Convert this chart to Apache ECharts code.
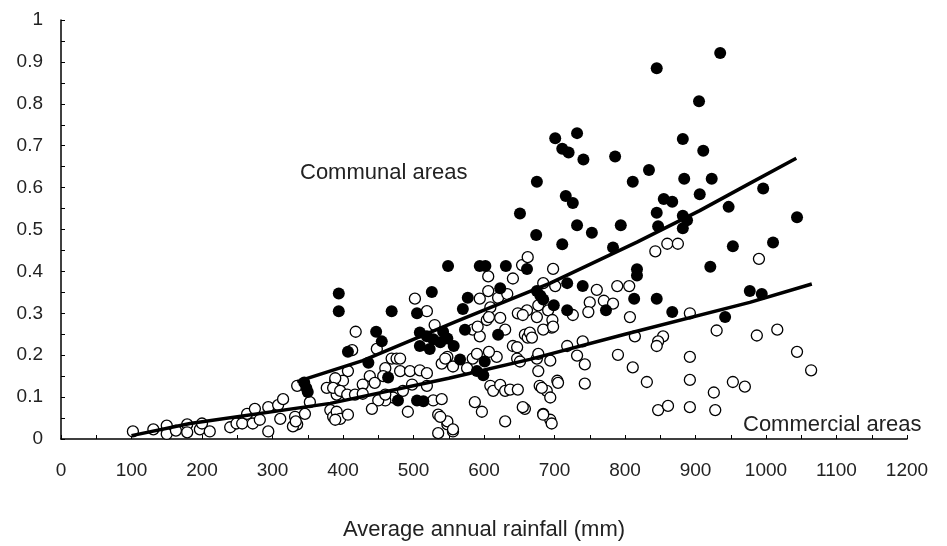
<!DOCTYPE html>
<html>
<head>
<meta charset="utf-8">
<script src="https://cdn.jsdelivr.net/npm/echarts@6/dist/echarts.min.js"></script>
<style>
html,body{margin:0;padding:0;background:#fff;}
#chart{width:947px;height:546px;}
</style>
</head>
<body>
<div id="chart"></div>
<script>
// ---- Data ----
const xTickLabels = ['0','100','200','300','400','500','600','700','800','900','1000','1100','1200'];
const yTickLabels = ['0','0.1','0.2','0.3','0.4','0.5','0.6','0.7','0.8','0.9','1'];

// Communal areas (filled markers): [rainfall mm, value]
const communalPoints = [
  [345,0.135],[350,0.112],[348,0.122],[394,0.347],[394,0.305],[407,0.208],[436,0.182],
  [447,0.256],[455,0.233],[464,0.147],[469,0.305],[478,0.092],[505,0.092],[514,0.090],
  [505,0.300],[526,0.351],[509,0.254],[519,0.245],[528,0.238],[509,0.222],[523,0.215],
  [538,0.231],[549,0.413],[594,0.413],[602,0.413],[631,0.413],[661,0.406],[623,0.360],
  [577,0.337],[570,0.310],[542,0.256],[573,0.261],[620,0.249],[548,0.240],[557,0.222],
  [566,0.190],[601,0.185],[599,0.152],[590,0.162],[675,0.353],[680,0.342],[684,0.333],
  [699,0.319],[718,0.307],[718,0.372],[740,0.365],[773,0.307],[813,0.335],[845,0.335],
  [867,0.303],[942,0.291],[977,0.353],[994,0.346],[921,0.411],[817,0.405],[817,0.390],
  [711,0.465],[783,0.457],[953,0.460],[1010,0.469],[651,0.538],[675,0.614],[674,0.487],
  [732,0.510],[753,0.492],[794,0.510],[701,0.718],[732,0.730],[711,0.693],[720,0.684],
  [741,0.667],[786,0.674],[882,0.716],[911,0.688],[811,0.614],[834,0.642],[884,0.621],
  [923,0.621],[716,0.580],[726,0.563],[906,0.584],[855,0.573],[867,0.566],[947,0.554],
  [845,0.540],[882,0.533],[888,0.522],[882,0.503],[847,0.508],[996,0.598],[1044,0.529],
  [905,0.806],[845,0.885],[935,0.921]
];

// Commercial areas (open markers): [rainfall mm, value]
const commercialPoints = [
  [102,0.018],[131,0.023],[150,0.032],[150,0.012],[163,0.020],[179,0.035],[179,0.016],
  [197,0.023],[200,0.037],[211,0.018],[240,0.028],[249,0.037],[257,0.037],[264,0.060],
  [272,0.037],[275,0.072],[282,0.046],[294,0.076],[294,0.018],[308,0.081],[315,0.095],
  [311,0.048],[332,0.053],[335,0.035],[329,0.030],[333,0.042],[335,0.127],[346,0.060],
  [353,0.088],[377,0.122],[382,0.069],[386,0.053],[389,0.138],[391,0.106],
  [502,0.335],[519,0.305],[418,0.256],[413,0.212],[448,0.215],[530,0.272],[469,0.192],
  [476,0.192],[481,0.192],[460,0.169],[481,0.162],[457,0.150],[438,0.150],[445,0.134],
  [428,0.130],[407,0.162],[400,0.139],[389,0.145],[386,0.122],[396,0.115],[406,0.106],
  [417,0.106],[428,0.108],[495,0.162],[509,0.164],[519,0.157],[498,0.130],[519,0.127],
  [485,0.115],[540,0.180],[548,0.196],[471,0.099],[460,0.092],[450,0.092],[441,0.072],
  [492,0.065],[528,0.092],[391,0.065],[396,0.048],[407,0.058],[389,0.046],[535,0.058],
  [535,0.014],[548,0.035],[556,0.018],[460,0.106],
  [606,0.388],[641,0.383],[654,0.415],[662,0.434],[594,0.335],[606,0.353],[620,0.337],
  [633,0.346],[648,0.300],[661,0.307],[675,0.291],[609,0.314],[604,0.284],[584,0.261],
  [594,0.245],[630,0.261],[658,0.249],[662,0.242],[641,0.222],[647,0.219],[696,0.266],
  [618,0.196],[647,0.192],[675,0.192],[545,0.192],[556,0.173],[576,0.169],[584,0.192],
  [609,0.127],[613,0.115],[623,0.129],[630,0.115],[637,0.118],[648,0.118],[679,0.127],
  [689,0.115],[694,0.099],[677,0.162],[704,0.139],[540,0.095],[587,0.088],[597,0.065],
  [658,0.072],[630,0.042],[684,0.060],[694,0.046],[548,0.042],[556,0.023],
  [591,0.268],[607,0.291],[665,0.254],[684,0.261],[677,0.319],[691,0.307],[655,0.296],
  [623,0.289],[607,0.208],[590,0.203],[651,0.185],[655,0.076],[538,0.053],
  [698,0.406],[843,0.448],[860,0.466],[875,0.466],[684,0.372],[701,0.365],[760,0.356],
  [750,0.326],[748,0.303],[770,0.330],[783,0.323],[726,0.296],[789,0.365],[806,0.365],
  [807,0.291],[892,0.300],[930,0.259],[697,0.284],[698,0.268],[668,0.242],[814,0.245],
  [854,0.245],[847,0.233],[845,0.222],[718,0.222],[740,0.233],[732,0.199],[677,0.203],
  [790,0.201],[892,0.196],[743,0.178],[811,0.171],[694,0.187],[705,0.134],[743,0.132],
  [831,0.136],[892,0.141],[682,0.122],[684,0.058],[696,0.037],[847,0.069],[861,0.079],
  [892,0.076],[928,0.069],[926,0.111],[953,0.136],[970,0.125],
  [990,0.430],[987,0.247],[1016,0.261],[1044,0.208],[1064,0.164]
];

// Fitted trend lines
const communalTrend = [[335,0.137],[428,0.187],[560,0.280],[694,0.372],[817,0.470],[906,0.545],[977,0.610],[1043,0.670]];
const commercialTrend = [[100,0.008],[183,0.037],[382,0.085],[550,0.145],[665,0.190],[800,0.250],[977,0.326],[1065,0.370]];

const FONT = '"Liberation Sans", Arial, sans-serif';
const chart = echarts.init(document.getElementById('chart'));
chart.setOption({
  animation: false,
  backgroundColor: '#ffffff',
  grid: { left: 61, right: 40, top: 20, bottom: 93 },
  xAxis: {
    type: 'value', min: 0, max: 1200, interval: 100,
    name: 'Average annual rainfall (mm)', nameLocation: 'middle', nameGap: 80,
    nameTextStyle: { fontFamily: FONT, fontSize: 22, color: '#222' },
    axisLine: { show: true, onZero: false, lineStyle: { color: '#000', width: 1.5 } },
    axisTick: { show: true, inside: true, length: 4, lineStyle: { color: '#000', width: 1 } },
    minorTick: { show: true, splitNumber: 2, length: 4, lineStyle: { color: '#000', width: 1 } },
    splitLine: { show: false },
    axisLabel: { margin: 22, fontFamily: FONT, fontSize: 19, color: '#222',
      formatter: (v) => xTickLabels[Math.round(v / 100)] }
  },
  yAxis: {
    type: 'value', min: 0, max: 1, interval: 0.1,
    axisLine: { show: true, onZero: false, lineStyle: { color: '#000', width: 1.5 } },
    axisTick: { show: true, inside: true, length: 4, lineStyle: { color: '#000', width: 1 } },
    minorTick: { show: true, splitNumber: 2, length: 4, lineStyle: { color: '#000', width: 1 } },
    splitLine: { show: false },
    axisLabel: { margin: 18, fontFamily: FONT, fontSize: 19, color: '#222',
      formatter: (v) => yTickLabels[Math.round(v * 10)] }
  },
  series: [
    {
      name: 'Commercial areas', type: 'scatter', data: commercialPoints,
      symbol: 'circle', symbolSize: 11,
      itemStyle: { color: '#fff', borderColor: '#000', borderWidth: 1.3, opacity: 1 }, z: 2
    },
    {
      name: 'Communal areas', type: 'scatter', data: communalPoints,
      symbol: 'circle', symbolSize: 12,
      itemStyle: { color: '#000', opacity: 1 }, z: 3
    },
    {
      type: 'line', data: communalTrend, showSymbol: false, smooth: false,
      lineStyle: { color: '#000', width: 3.5 }, z: 4
    },
    {
      type: 'line', data: commercialTrend, showSymbol: false, smooth: false,
      lineStyle: { color: '#000', width: 3.5 }, z: 4
    }
  ],
  graphic: [
    { type: 'text', left: 300, top: 162, style: { text: 'Communal areas', font: '22px ' + FONT, fill: '#222' } },
    { type: 'text', left: 743, top: 414, style: { text: 'Commercial areas', font: '22px ' + FONT, fill: '#222' } }
  ]
});
</script>
</body>
</html>
